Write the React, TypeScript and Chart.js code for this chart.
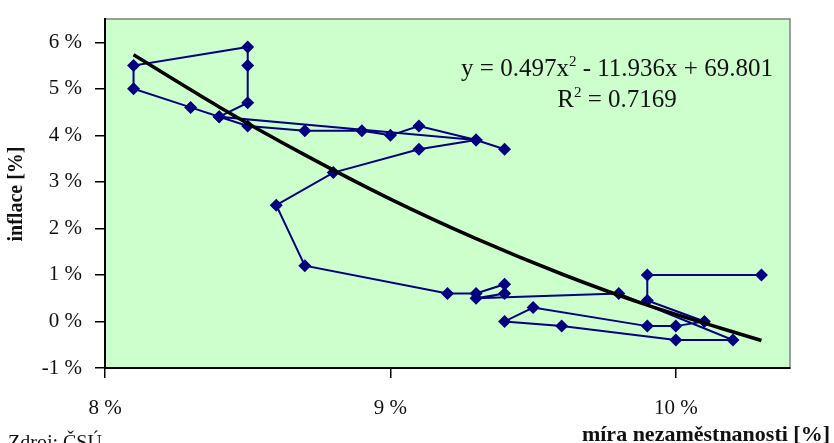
import React, { useEffect, useRef } from 'react';
import { Chart, registerables } from 'chart.js';
Chart.register(...registerables);

// míra nezaměstnanosti [%] (x) and inflace [%] (y), in time order
const unemployment = [9.4, 9.3, 9.1, 9.0, 8.9, 8.7, 8.5, 8.4, 8.3, 8.1, 8.1, 8.5, 8.5, 8.5, 8.4, 9.3, 9.1, 8.8, 8.6, 8.7, 9.2, 9.3, 9.4, 9.4, 9.3, 9.8, 10.2, 10.0, 9.6, 9.4, 9.5, 9.9, 10.0, 10.1, 9.9, 9.9, 10.3];
const inflation = [3.7, 3.9, 4.2, 4.0, 4.1, 4.1, 4.2, 4.4, 4.6, 5.0, 5.5, 5.9, 5.5, 4.7, 4.4, 3.9, 3.7, 3.2, 2.5, 1.2, 0.6, 0.6, 0.8, 0.6, 0.5, 0.6, -0.4, -0.4, -0.1, 0.0, 0.3, -0.1, -0.1, 0.0, 0.45, 1.0, 1.0];

// polynomial trend line
const trendX = [8.1, 8.4, 8.7, 9.0, 9.3, 9.6, 9.9, 10.3];
const trendY = [5.73, 4.61, 3.58, 2.63, 1.78, 1.02, 0.35, -0.41];

const xTicks = [8, 9, 10];
const yTicks = [-1, 0, 1, 2, 3, 4, 5, 6];

const equationParts = [
  { t: 'y = 0.497x', sup: false },
  { t: '2', sup: true },
  { t: ' - 11.936x + 69.801', sup: false },
];
const r2Parts = [
  { t: 'R', sup: false },
  { t: '2', sup: true },
  { t: ' = 0.7169', sup: false },
];
const xTitle = 'míra nezaměstnanosti [%]';
const yTitle = 'inflace [%]';
const sourceText = 'Zdroj: ČSÚ';

const SERIF = "'Liberation Serif', 'Times New Roman', serif";

function drawParts(ctx: CanvasRenderingContext2D, parts: { t: string; sup: boolean }[], cx: number, y: number, size: number) {
  const supSize = Math.round(size * 0.6);
  let total = 0;
  const widths = parts.map((p) => {
    ctx.font = `${p.sup ? supSize : size}px ${SERIF}`;
    const w = ctx.measureText(p.t).width;
    total += w;
    return w;
  });
  let x = cx - total / 2;
  ctx.textAlign = 'left';
  ctx.textBaseline = 'alphabetic';
  parts.forEach((p, i) => {
    ctx.font = `${p.sup ? supSize : size}px ${SERIF}`;
    ctx.fillText(p.t, x, p.sup ? y - size * 0.42 : y);
    x += widths[i];
  });
}

const bgPlugin = {
  id: 'bgPlugin',
  beforeDraw(chart: any) {
    const { ctx, chartArea: a } = chart;
    ctx.save();
    ctx.fillStyle = '#CCFFCC';
    ctx.fillRect(a.left, a.top, a.right - a.left, a.bottom - a.top);
    ctx.strokeStyle = '#808080';
    ctx.lineWidth = 1.5;
    ctx.strokeRect(a.left, a.top, a.right - a.left, a.bottom - a.top);
    ctx.restore();
  },
  afterDraw(chart: any) {
    const { ctx } = chart;
    ctx.save();
    ctx.fillStyle = '#111';
    drawParts(ctx, equationParts, 617, 76, 25);
    drawParts(ctx, r2Parts, 617, 107, 25);
    ctx.font = `bold 22px ${SERIF}`;
    ctx.textAlign = 'right';
    ctx.textBaseline = 'alphabetic';
    ctx.fillText(xTitle, 830, 441);
    ctx.textAlign = 'left';
    ctx.font = `20px ${SERIF}`;
    ctx.fillText(sourceText, 8, 449);
    ctx.translate(17, 194);
    ctx.rotate(-Math.PI / 2);
    ctx.textAlign = 'center';
    ctx.textBaseline = 'middle';
    ctx.font = `bold 20px ${SERIF}`;
    ctx.fillText(yTitle, 0, 0);
    ctx.restore();
  },
};

export default function App() {
  const ref = useRef<HTMLCanvasElement | null>(null);
  useEffect(() => {
    if (!ref.current) return;
    const chart = new Chart(ref.current, {
      type: 'scatter',
      data: {
        datasets: [
          {
            label: 'data',
            data: unemployment.map((x, i) => ({ x, y: inflation[i] })),
            showLine: true,
            borderColor: '#000080',
            backgroundColor: '#000080',
            borderWidth: 2,
            pointStyle: 'rectRot',
            pointRadius: 6.5,
            pointBorderWidth: 0,
            order: 2,
          },
          {
            label: 'trend',
            data: trendX.map((x, i) => ({ x, y: trendY[i] })),
            showLine: true,
            borderColor: '#000',
            borderWidth: 3.5,
            pointRadius: 0,
            cubicInterpolationMode: 'monotone',
            order: 1,
          },
        ],
      },
      options: {
        responsive: false,
        animation: false,
        devicePixelRatio: 1,
        layout: { padding: { top: 19, right: 44, left: 0, bottom: 0 } },
        plugins: { legend: { display: false }, tooltip: { enabled: false } },
        scales: {
          x: {
            type: 'linear',
            min: 8,
            max: 10.4,
            afterFit: (s: any) => { s.height = 75; s.paddingLeft = 0; s.paddingRight = 0; },
            afterBuildTicks: (s: any) => { s.ticks = xTicks.map((v) => ({ value: v })); },
            ticks: {
              callback: (v: any) => `${v} %`,
              font: { family: SERIF, size: 21 },
              color: '#111',
              padding: 18,
              maxRotation: 0,
            },
            grid: { drawOnChartArea: false, drawTicks: true, tickLength: 10, color: '#000', lineWidth: 1.5 },
            border: { display: true, color: '#000', width: 2 },
          },
          y: {
            type: 'linear',
            min: -1,
            max: 6.5,
            afterFit: (s: any) => { s.width = 105; s.paddingTop = 0; s.paddingBottom = 0; },
            afterBuildTicks: (s: any) => { s.ticks = yTicks.map((v) => ({ value: v })); },
            ticks: {
              callback: (v: any) => `${v} %`,
              font: { family: SERIF, size: 21 },
              color: '#111',
              padding: 13,
            },
            grid: { drawOnChartArea: false, drawTicks: true, tickLength: 10, color: '#000', lineWidth: 1.5 },
            border: { display: true, color: '#000', width: 2 },
          },
        },
      },
      plugins: [bgPlugin],
    } as any);
    return () => chart.destroy();
  }, []);
  return (
    <div style={{ position: 'fixed', left: 0, top: 0, width: 834, height: 443, background: '#fff' }}>
      <canvas ref={ref} width={834} height={443} style={{ width: 834, height: 443, display: 'block' }} />
    </div>
  );
}
